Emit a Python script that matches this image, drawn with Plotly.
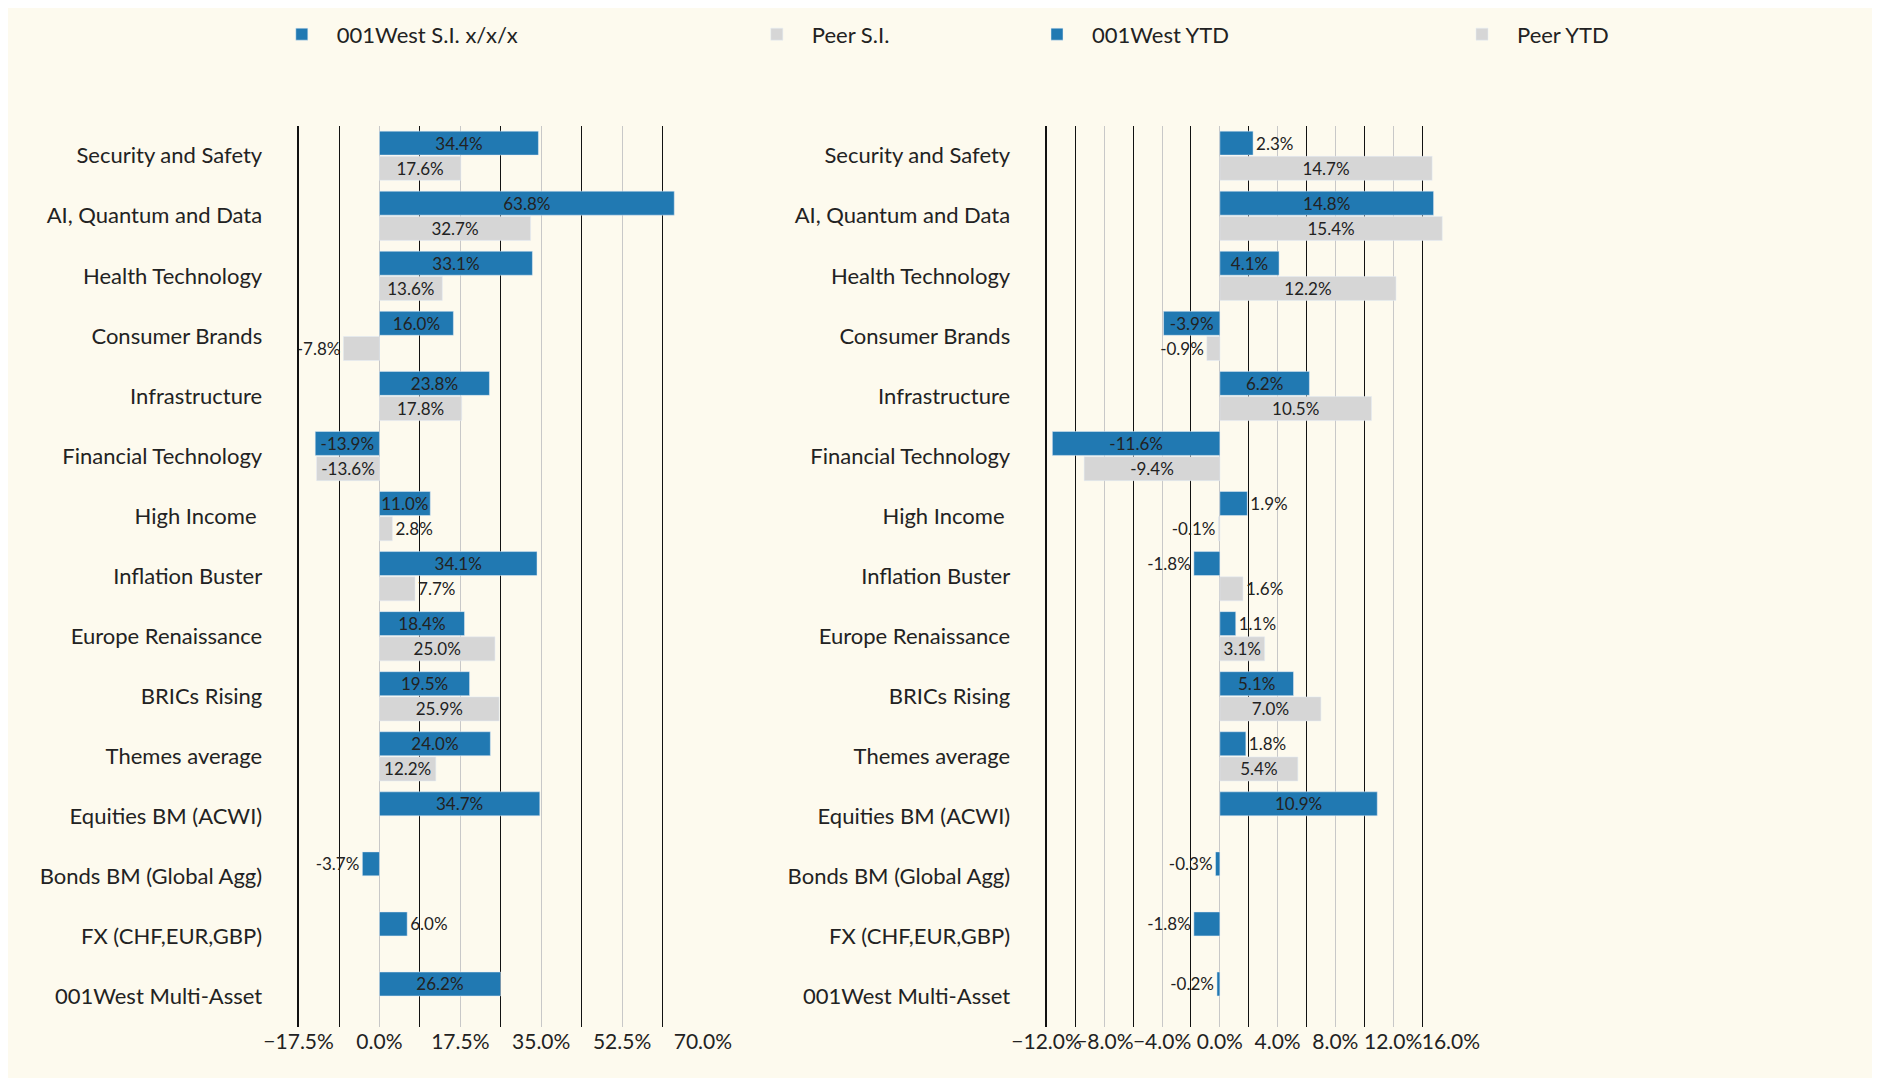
import plotly.graph_objects as go
from plotly.subplots import make_subplots

categories = ["Security and Safety", "AI, Quantum and Data", "Health Technology", "Consumer Brands",
              "Infrastructure", "Financial Technology", "High Income ", "Inflation Buster",
              "Europe Renaissance", "BRICs Rising", "Themes average", "Equities BM (ACWI)",
              "Bonds BM (Global Agg)", "FX (CHF,EUR,GBP)", "001West Multi-Asset"]
west_si = [34.4, 63.8, 33.1, 16.0, 23.8, -13.9, 11.0, 34.1, 18.4, 19.5, 24.0, 34.7, -3.7, 6.0, 26.2]
peer_si = [17.6, 32.7, 13.6, -7.8, 17.8, -13.6, 2.8, 7.7, 25.0, 25.9, 12.2, None, None, None, None]
west_ytd = [2.3, 14.8, 4.1, -3.9, 6.2, -11.6, 1.9, -1.8, 1.1, 5.1, 1.8, 10.9, -0.3, -1.8, -0.2]
peer_ytd = [14.7, 15.4, 12.2, -0.9, 10.5, -9.4, -0.1, 1.6, 3.1, 7.0, 5.4, None, None, None, None]

BLUE = "#2179b2"
GREY = "#d6d6d6"
BG = "#fdfaee"


def fmt(vals):
    return [None if v is None else f"{v:.1f}%" for v in vals]


fig = make_subplots(rows=1, cols=2)

fig.add_trace(go.Bar(y=categories, x=west_si, orientation="h", name="001West S.I. x/x/x",
                     marker_color=BLUE, text=fmt(west_si), legend="legend"), row=1, col=1)
fig.add_trace(go.Bar(y=categories, x=peer_si, orientation="h", name="Peer S.I.",
                     marker_color=GREY, text=fmt(peer_si), legend="legend"), row=1, col=1)
fig.add_trace(go.Bar(y=categories, x=west_ytd, orientation="h", name="001West YTD",
                     marker_color=BLUE, text=fmt(west_ytd), legend="legend2"), row=1, col=2)
fig.add_trace(go.Bar(y=categories, x=peer_ytd, orientation="h", name="Peer YTD",
                     marker_color=GREY, text=fmt(peer_ytd), legend="legend2"), row=1, col=2)

fig.update_traces(textposition="auto", textfont=dict(size=17, color="#222222"),
                  insidetextanchor="middle", constraintext="none", cliponaxis=False)

fig.update_xaxes(tickformat=".1f", ticksuffix="%", showgrid=True, gridcolor="#c8c8c8", gridwidth=1,
                 zeroline=False, showline=False, tickangle=0, tickfont=dict(size=21, color="#222222"),
                 minor=dict(showgrid=True, gridcolor="#111111", gridwidth=1))
fig.update_xaxes(range=[-17.5, 70], tick0=-17.5, dtick=17.5, minor_dtick=8.75,
                 domain=[0.177, 0.457], row=1, col=1)
fig.update_xaxes(range=[-12, 16], tick0=-12, dtick=4, minor_dtick=2,
                 domain=[0.695, 0.975], row=1, col=2)
fig.update_yaxes(autorange="reversed", domain=[0.048, 0.89], showline=True, linecolor="#111111",
                 linewidth=2, ticks="", ticklabelstandoff=30, tickfont=dict(size=22, color="#222222"))

fig.update_layout(
    barmode="group",
    bargap=0.16,
    bargroupgap=0.05,
    paper_bgcolor=BG,
    plot_bgcolor=BG,
    font=dict(family="Lato", size=22, color="#222222"),
    margin={"r": 0, "t": 0, "l": 0, "b": 0},
    legend=dict(orientation="h", x=0.155, y=0.995, xanchor="left", yanchor="top",
                font=dict(size=22), itemwidth=60, entrywidth=400),
    legend2=dict(orientation="h", x=0.678, y=0.995, xanchor="left", yanchor="top",
                 font=dict(size=22), itemwidth=60, entrywidth=350)
)

fig.write_html("out.html")
